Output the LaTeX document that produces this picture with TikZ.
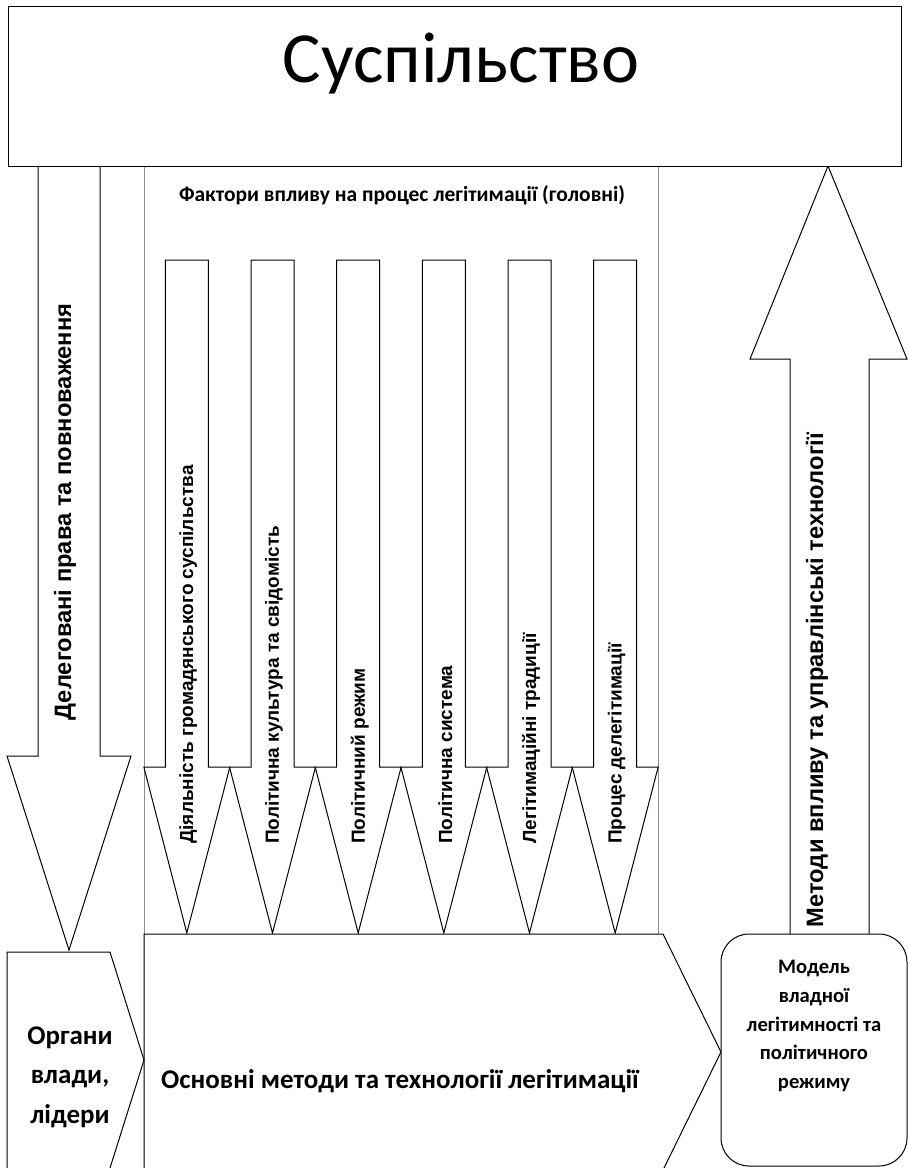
\documentclass[tikz,border=0pt]{standalone}
\usepackage{fontspec}
\setmainfont{Carlito}
\newfontfamily\arialf{Liberation Sans}
\begin{document}
\begin{tikzpicture}[x=1pt,y=-1pt,line join=miter,
  ln/.style={draw=black,line width=1pt,fill=white},
  guide/.style={draw=black!45,line width=0.7pt},
  flabel/.style={rotate=90,anchor=west,inner sep=0pt,font=\arialf\bfseries\fontsize{19}{22}\selectfont},
  blabel/.style={rotate=90,inner sep=0pt,font=\arialf\bfseries\fontsize{23.7}{27}\selectfont},
  ctext/.style={inner sep=0pt,font=\bfseries\fontsize{27}{39.5}\selectfont,align=center},
  mtext/.style={inner sep=0pt,font=\bfseries\fontsize{20.6}{28.7}\selectfont,align=center}]
\useasboundingbox (0,0) rectangle (908,1168);
\clip (0,0) rectangle (908,1168);

% guide lines of the factor area
\coordinate (gTL) at (144,165);
\coordinate (gBL) at (144,934);
\coordinate (gTR) at (658,165);
\coordinate (gBR) at (658,934);
\draw[guide] (gTL) -- (gBL);
\draw[guide] (gTR) -- (gBR);

% left arrow (down)
\draw[ln] (38,150) -- (100,150) -- (100,756) -- (131,756) -- (69,950) -- (7,756) -- (38,756) -- cycle;
\node[blabel] (deleg) at (65,512) {Делеговані права та повноваження};

% right arrow (up)
\draw[ln] (828,166) -- (907,359) -- (869,359) -- (869,935) -- (790,935) -- (790,359) -- (750,359) -- cycle;
\node[blabel] (metody) at (817,680) {Методи впливу та управлінські технології};

% top box
\node[draw,line width=1pt,fill=white,anchor=north west,minimum width=893pt,minimum height=160pt,inner sep=0pt] (soc) at (8,6) {};
\node[inner sep=0pt,anchor=base,font=\fontsize{72}{78}\selectfont] (soct) at (461,82) {Суспільство};

% title of factors
\node[inner sep=0pt,anchor=base,font=\bfseries\fontsize{21.5}{24}\selectfont] (ftitle) at (402,201) {Фактори впливу на процес легітимації (головні)};

% factor arrows
\foreach \i/\t in {1/Діяльність громадянського суспільства,2/Політична культура та свідомість,3/Політичний режим,4/Політична система,5/Легітимаційні традиції,6/Процес делегітимації}{
  \pgfmathsetmacro\c{144+85.667*(\i-0.5)}
  \draw[ln] (\c-21.5,260) -- (\c+21.5,260) -- (\c+21.5,767) -- (\c+43,767) -- (\c,933) -- (\c-43,767) -- (\c-21.5,767) -- cycle;
  \node[flabel] (f\i) at (\c+1.5,844) {\t};
}

% bottom: main box
\draw[ln] (144,934) -- (663,934) -- (721,1052) -- (663,1170) -- (144,1170) -- cycle;
\node[inner sep=0pt,anchor=base,font=\bfseries\fontsize{27}{30}\selectfont] (main) at (400,1088) {Основні методи та технології легітимації};

% left pentagon
\draw[ln] (7,952) -- (110,952) -- (144,1060) -- (110,1168) -- (110,1175) -- (7,1175) -- cycle;
\node[ctext] (organy) at (70,1077) {Органи\\влади,\\лідери};

% right rounded box
\draw[ln,rounded corners=28pt] (721,934) rectangle (907,1166);
\node[mtext] (model) at (814,1026) {Модель\\владної\\легітимності та\\політичного\\режиму};
\end{tikzpicture}
\end{document}
